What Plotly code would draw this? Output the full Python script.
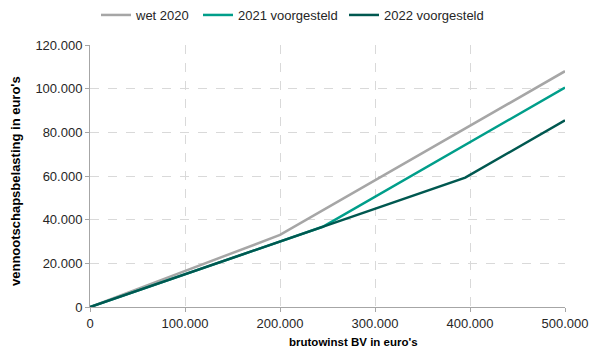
import plotly.graph_objects as go

# Data
x_2020 = [0, 200000, 500000]
y_2020 = [0, 33000, 108000]
x_2021 = [0, 245000, 500000]
y_2021 = [0, 36750, 100500]
x_2022 = [0, 395000, 500000]
y_2022 = [0, 59250, 85500]

names = ["wet 2020", "2021 voorgesteld", "2022 voorgesteld"]
colors = ["#A6A6A6", "#009E8A", "#005850"]
legend_refs = ["legend", "legend2", "legend3"]
legend_x = [96, 198, 344]
x_title = "brutowinst BV in euro's"
y_title = "vennootschapsbelasting in euro's"

fig = go.Figure()
for xs, ys, n, c, lg in zip([x_2020, x_2021, x_2022], [y_2020, y_2021, y_2022], names, colors, legend_refs):
    fig.add_trace(go.Scatter(x=xs, y=ys, mode="lines", name=n, legend=lg,
                             line=dict(color=c, width=2.5)))

font = "Liberation Sans, Arial, sans-serif"
leg_common = dict(orientation="h", xref="container", yref="container",
                  xanchor="left", yanchor="middle", y=1 - 15 / 355,
                  font=dict(size=13, color="#262626"), bgcolor="rgba(0,0,0,0)")
fig.update_layout(
    width=600, height=355,
    margin=dict(l=90, r=35, t=45, b=48, autoexpand=False),
    paper_bgcolor="white", plot_bgcolor="white",
    separators=",.",
    font=dict(family=font, size=13, color="#262626"),
    legend=dict(leg_common, x=legend_x[0] / 600),
    legend2=dict(leg_common, x=legend_x[1] / 600),
    legend3=dict(leg_common, x=legend_x[2] / 600),
    showlegend=True,
)
axis_common = dict(tickformat=",.0f", showgrid=True, gridcolor="#D9D9D9", griddash="dash",
                   showline=True, linecolor="#A6A6A6", linewidth=1, ticks="outside",
                   tickcolor="#A6A6A6", ticklen=4, zeroline=False, automargin=False,
                   tickfont=dict(size=13, color="#262626"))
fig.update_xaxes(range=[0, 500000], tickvals=[0, 100000, 200000, 300000, 400000, 500000],
                 **axis_common)
fig.update_yaxes(range=[0, 120000], tickvals=[0, 20000, 40000, 60000, 80000, 100000, 120000],
                 **axis_common)

# Axis titles as annotations for exact placement
fig.add_annotation(text="<b>" + x_title + "</b>", xref="paper", yref="paper",
                   x=(353 - 90) / 475, y=(307 - 342) / 262, showarrow=False,
                   xanchor="center", yanchor="middle",
                   font=dict(size=11.5, color="#000000"))
fig.add_annotation(text="<b>" + y_title + "</b>", xref="paper", yref="paper",
                   x=(15 - 90) / 475, y=(307 - 181) / 262, showarrow=False,
                   xanchor="center", yanchor="middle", textangle=-90,
                   font=dict(size=13, color="#000000"))

fig.write_html("out.html")
